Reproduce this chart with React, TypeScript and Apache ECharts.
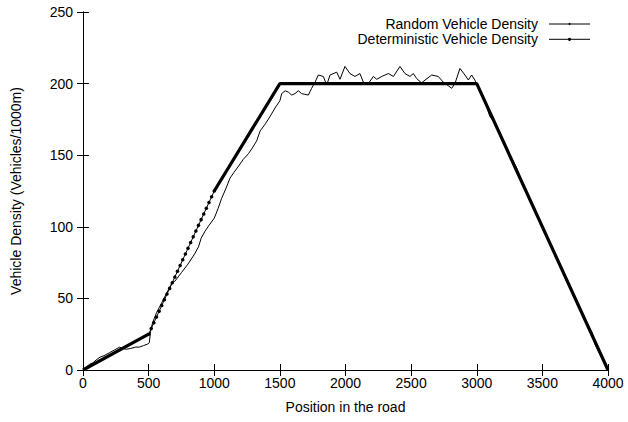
import React, { useEffect, useRef } from "react";
import * as echarts from "echarts";

const xTicks = [0, 500, 1000, 1500, 2000, 2500, 3000, 3500, 4000];
const yTicks = [0, 50, 100, 150, 200, 250];

const randomX = [
  0, 25, 50, 75, 100, 130, 160, 200, 240, 280, 300, 330, 360, 400, 430, 460, 490, 505, 515,
  530, 560, 600, 650, 680, 700, 750, 800, 850, 880, 900, 930, 960, 1000, 1030, 1057, 1090, 1120,
  1150, 1190, 1220, 1260, 1290, 1323, 1350, 1390, 1425, 1463, 1500, 1514, 1540, 1565, 1590, 1615,
  1640, 1666, 1690, 1717, 1742, 1768, 1793, 1831, 1857, 1882, 1933, 1958, 1996, 2034, 2072, 2110,
  2136, 2174, 2212, 2238, 2276, 2327, 2365, 2415, 2453, 2491, 2517, 2542, 2580, 2606, 2657, 2707,
  2745, 2783, 2809, 2834, 2872, 2910, 2936, 2961, 2986, 2999, 3050, 3100, 3150, 3200, 3250, 3300,
  3350, 3400, 3450, 3500, 3550, 3600, 3650, 3700, 3750, 3800, 3850, 3880, 3900, 3950, 4000,
];
const randomY = [
  0, 2, 4, 5, 7, 9, 10, 12, 14, 16, 15, 14.5, 15, 16, 16, 17, 18, 19, 27,
  33, 40, 47, 56, 61, 62, 68, 74, 81, 86, 92, 97, 101, 106, 113, 120, 127, 134,
  138, 143, 147, 151, 155, 160, 167, 172, 177, 183, 188, 193, 195, 194, 192, 193,
  195, 193, 192.5, 192, 196.7, 201, 206, 205, 199, 206, 208, 203, 212, 207, 205, 207,
  201, 200, 205, 203, 205, 207, 205, 212, 207, 205, 207, 203.5, 200.5, 202.5, 206, 205,
  201, 198.5, 196.7, 200, 210.6, 206, 202.5, 206, 202.5, 199, 191, 177, 171, 161, 150, 142,
  130, 119, 110, 101, 90, 79, 71, 60, 49, 41, 31, 26, 18, 9, 0,
];

const detThickX = [0, 500, 750, 1000, 1500, 3000, 4000];
const detThickY: (number | null)[] = [0, 25, null, 125, 200, 200, 0];

const detDotX = [
  500, 520, 540, 560, 580, 600, 620, 640, 660, 680, 700, 720, 740, 760, 780, 800, 820, 840,
  860, 880, 900, 920, 940, 960, 980, 1000,
];
const detDotY = [
  25, 29, 33, 37, 41, 45, 49, 53, 57, 61, 65, 69, 73, 77, 81, 85, 89, 93,
  97, 101, 105, 109, 113, 117, 121, 125,
];

const legendNames = ["Random Vehicle Density", "Deterministic Vehicle Density"];

const FONT = "'Liberation Sans', Arial, Helvetica, sans-serif";
const FS = 14;

export default function App() {
  const ref = useRef<HTMLDivElement>(null);
  useEffect(() => {
    if (!ref.current) return;
    const chart = echarts.init(ref.current, null, { renderer: "svg" });
    const axisLine = { show: true, lineStyle: { color: "#000", width: 1 } };
    const tick = { show: true, inside: true, length: 6, lineStyle: { color: "#000", width: 1 } };
    const legendGraphic: any[] = [];
    legendNames.forEach((n, i) => {
      const y = 24 + i * 15.3;
      legendGraphic.push({
        type: "text",
        x: 538,
        y,
        style: {
          text: n,
          fill: "#000",
          font: `${FS}px ${FONT}`,
          textAlign: "right",
          textVerticalAlign: "middle",
        },
      });
      legendGraphic.push({
        type: "line",
        shape: { x1: 549, y1: y, x2: 590, y2: y },
        style: { stroke: "#000", lineWidth: 1 },
      });
      legendGraphic.push({
        type: "circle",
        shape: { cx: 569.5, cy: y, r: i === 0 ? 1 : 1.6 },
        style: { fill: "#000" },
      });
    });
    const fmt = (v: number) => String(v);
    chart.setOption({
      animation: false,
      backgroundColor: "#fff",
      grid: { left: 83, right: 20, top: 12, bottom: 52, containLabel: false },
      xAxis: [
        {
          type: "value",
          min: 0,
          max: 4000,
          interval: 500,
          position: "bottom",
          name: "Position in the road",
          nameLocation: "middle",
          nameGap: 30,
          nameTextStyle: { color: "#000", fontSize: FS, fontFamily: FONT },
          axisLine,
          axisTick: tick,
          axisLabel: { color: "#000", fontSize: FS, fontFamily: FONT, margin: 6, formatter: fmt },
          splitLine: { show: false },
        },
        {
          type: "value",
          min: 0,
          max: 4000,
          interval: 500,
          position: "top",
          axisLine,
          axisTick: tick,
          axisLabel: { show: false },
          splitLine: { show: false },
        },
      ],
      yAxis: [
        {
          type: "value",
          min: 0,
          max: 250,
          interval: 50,
          position: "left",
          name: "Vehicle Density (Vehicles/1000m)",
          nameLocation: "middle",
          nameGap: 60,
          nameTextStyle: { color: "#000", fontSize: FS, fontFamily: FONT },
          axisLine,
          axisTick: tick,
          axisLabel: { color: "#000", fontSize: FS, fontFamily: FONT, margin: 10, formatter: fmt },
          splitLine: { show: false },
        },
        {
          type: "value",
          min: 0,
          max: 250,
          interval: 50,
          position: "right",
          axisLine,
          axisTick: tick,
          axisLabel: { show: false },
          splitLine: { show: false },
        },
      ],
      series: [
        {
          name: legendNames[0],
          type: "line",
          xAxisIndex: 0,
          yAxisIndex: 0,
          data: randomX.map((x, i) => [x, randomY[i]]),
          symbol: "none",
          lineStyle: { color: "#000", width: 1 },
        },
        {
          name: legendNames[1],
          type: "line",
          xAxisIndex: 0,
          yAxisIndex: 0,
          data: detThickX.map((x, i) => [x, detThickY[i]]),
          symbol: "none",
          connectNulls: false,
          lineStyle: { color: "#000", width: 3.2 },
        },
        {
          name: legendNames[1],
          type: "line",
          xAxisIndex: 0,
          yAxisIndex: 0,
          data: detDotX.map((x, i) => [x, detDotY[i]]),
          symbol: "circle",
          symbolSize: 3.5,
          itemStyle: { color: "#000" },
          lineStyle: { color: "#000", width: 1 },
        },
      ],
      graphic: legendGraphic,
    });
    return () => chart.dispose();
  }, []);
  return (
    <div
      ref={ref}
      style={{ position: "absolute", left: 0, top: 0, width: 628, height: 422 }}
    />
  );
}
